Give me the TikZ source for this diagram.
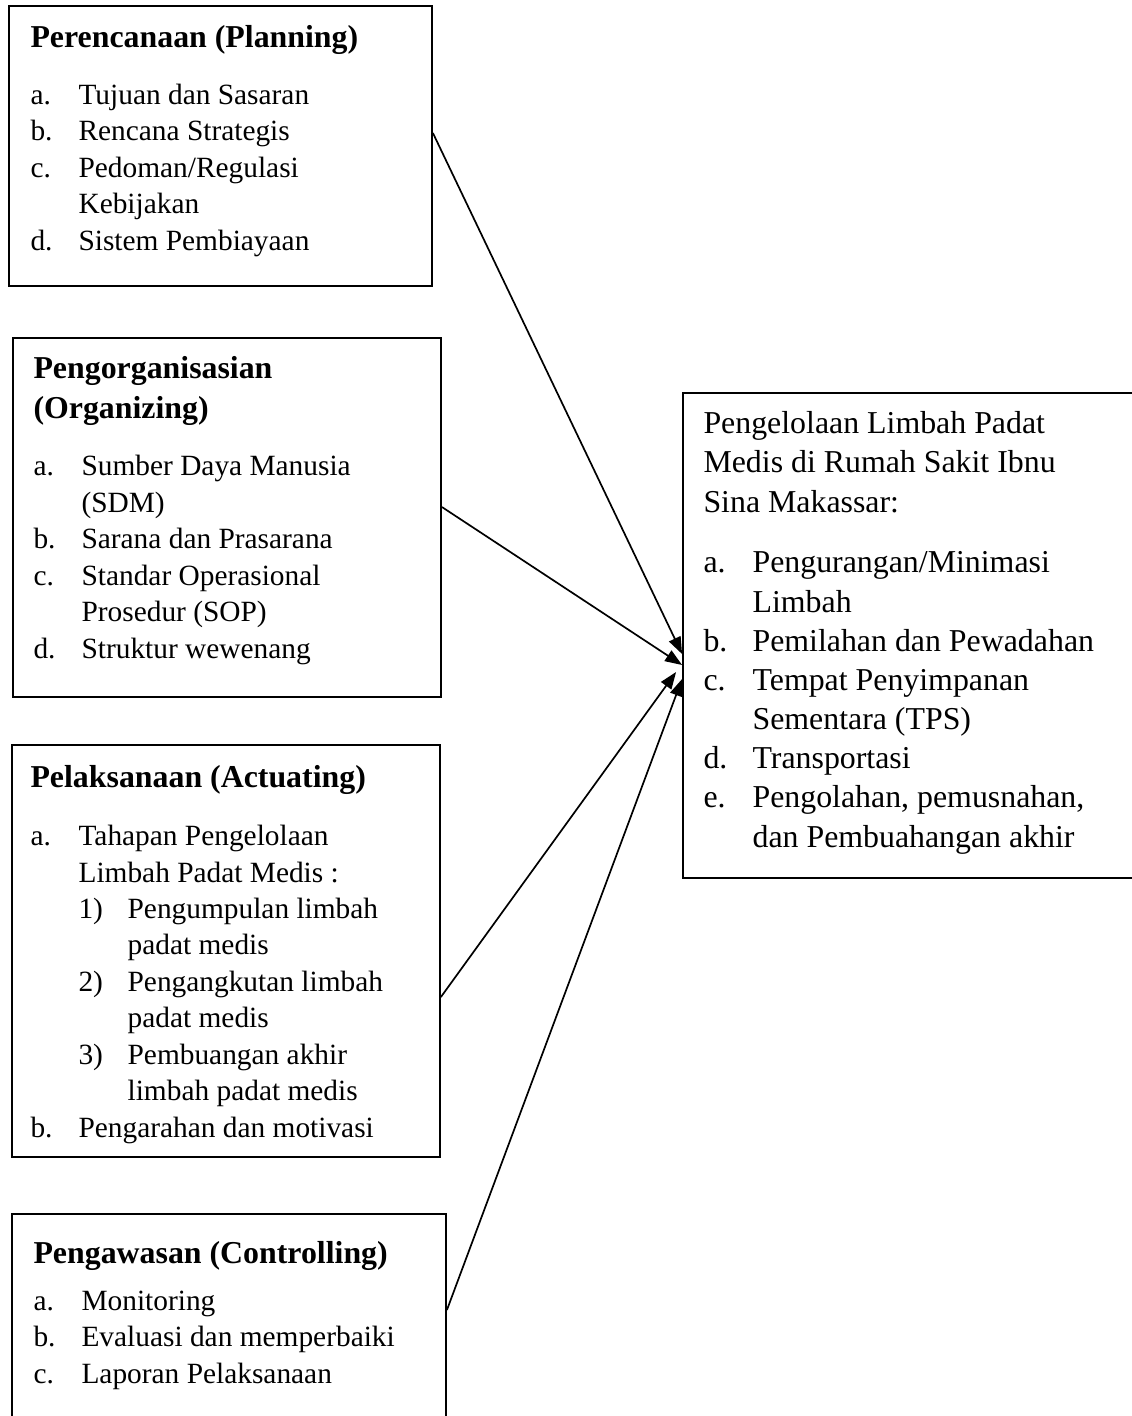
\documentclass[tikz,border=0pt]{standalone}
\usepackage{fontspec}
\setmainfont{Liberation Serif}
\usetikzlibrary{arrows.meta,calc,fit}
\newdimen\pxu \pxu=0.383pt
\newcommand{\lab}[1]{\makebox[18.4pt][l]{#1}}
\newcommand{\ind}{\hspace*{18.4pt}}
\newcommand{\labR}[1]{\makebox[18.8pt][l]{#1}}
\newcommand{\indR}{\hspace*{18.8pt}}
\newcommand{\sublab}[1]{\hspace*{18.4pt}\makebox[18.8pt][l]{#1}}
\newcommand{\subind}{\hspace*{37.2pt}}
\tikzset{
  boxline/.style={draw=black, line width=0.7pt, inner sep=0pt},
  head/.style={anchor=base west, inner sep=0pt, align=left, font=\fontsize{12.2}{15.3}\selectfont\bfseries},
  body/.style={anchor=base west, inner sep=0pt, align=left, font=\fontsize{11.25}{13.95}\selectfont},
  bodyR/.style={anchor=base west, inner sep=0pt, align=left, font=\fontsize{12.2}{15.0}\selectfont},
  arr/.style={line width=0.65pt, -{Triangle[length=6.5pt,width=4.8pt]}}
}
\begin{document}
\begin{tikzpicture}[x=0.383pt,y=-0.383pt]
\clip (0,0) rectangle (1132,1416);
\fill[white] (0,0) rectangle (1132,1416);
% boxes
\node[boxline, fit={(9,6) (432,286)}] (P) {};
\node[boxline, fit={(13,338) (441,697)}] (O) {};
\node[boxline, fit={(12,745) (440,1157)}] (A) {};
\node[boxline, fit={(12,1214) (446,1440)}] (C) {};
\node[boxline, fit={(683,393) (1150,878)}] (R) {};
% Planning (anchors at the baseline of the last line)
\node[head] (Ph) at (30,47) {Perencanaan (Planning)};
\node[body] (Pb) at (30,250) {\lab{a.}Tujuan dan Sasaran\\
\lab{b.}Rencana Strategis\\
\lab{c.}Pedoman/Regulasi\\
\ind Kebijakan\\
\lab{d.}Sistem Pembiayaan};
% Organizing
\node[head] (Oh) at (33,418) {Pengorganisasian\\(Organizing)};
\node[body] (Ob) at (33,658) {\lab{a.}Sumber Daya Manusia\\
\ind (SDM)\\
\lab{b.}Sarana dan Prasarana\\
\lab{c.}Standar Operasional\\
\ind Prosedur (SOP)\\
\lab{d.}Struktur wewenang};
% Actuating
\node[head] (Ah) at (30,787) {Pelaksanaan (Actuating)};
\node[body] (Ab) at (30,1137) {\lab{a.}Tahapan Pengelolaan\\
\ind Limbah Padat Medis :\\
\sublab{1)}Pengumpulan limbah\\
\subind padat medis\\
\sublab{2)}Pengangkutan limbah\\
\subind padat medis\\
\sublab{3)}Pembuangan akhir\\
\subind limbah padat medis\\
\lab{b.}Pengarahan dan motivasi};
% Controlling
\node[head] (Ch) at (33,1263) {Pengawasan (Controlling)};
\node[body] (Cb) at (33,1383) {\lab{a.}Monitoring\\
\lab{b.}Evaluasi dan memperbaiki\\
\lab{c.}Laporan Pelaksanaan};
% Result
\node[bodyR, font=\fontsize{12.2}{15.1}\selectfont] (Rh) at (703,512) {Pengelolaan Limbah Padat\\
Medis di Rumah Sakit Ibnu\\
Sina Makassar:};
\node[bodyR] (Rb) at (703,847) {\labR{a.}Pengurangan/Minimasi\\
\indR Limbah\\
\labR{b.}Pemilahan dan Pewadahan\\
\labR{c.}Tempat Penyimpanan\\
\indR Sementara (TPS)\\
\labR{d.}Transportasi\\
\labR{e.}Pengolahan, pemusnahan,\\
\indR dan Pembuahangan akhir};
% arrows
\draw[arr] ($(P.north east)!(0,133)!(P.south east)$) -- ($(R.north west)!(0,654)!(R.south west)$);
\draw[arr] ($(O.north east)!(0,507)!(O.south east)$) -- ($(R.north west)!(0,665)!(R.south west)$);
\draw[arr] ($(A.north east)!(0,997)!(A.south east)$) -- ($($(R.north west)!(0,672)!(R.south west)$)+(-6,0)$);
\draw[arr] ($(C.north east)!(0,1310)!(C.south east)$) -- ($(R.north west)!(0,679)!(R.south west)$);
\end{tikzpicture}
\end{document}
